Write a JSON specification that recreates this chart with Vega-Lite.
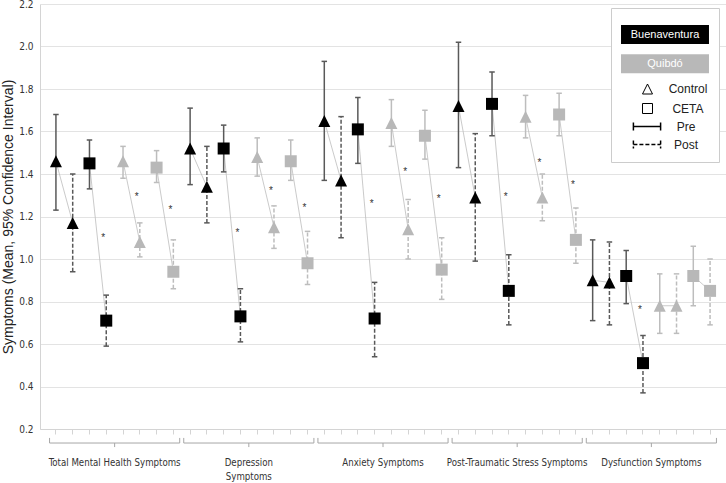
{
  "$schema": "https://vega.github.io/schema/vega-lite/v6.json",
  "width": 686,
  "height": 425,
  "autosize": {"type": "none"},
  "padding": {"left": 40, "top": 4, "right": 0, "bottom": 54},
  "background": "white",
  "config": {"view": {"stroke": null}, "font": "Liberation Sans"},
  "datasets": {
    "pts": [
      {"key": "Total Mental Health Symptoms|Buenaventura|Control|Pre", "m": "Total Mental Health Symptoms", "site": "Buenaventura", "cond": "Control", "time": "Pre", "mean": 1.46, "lo": 1.23, "hi": 1.68, "sig": null},
      {"key": "Total Mental Health Symptoms|Buenaventura|Control|Post", "m": "Total Mental Health Symptoms", "site": "Buenaventura", "cond": "Control", "time": "Post", "mean": 1.17, "lo": 0.94, "hi": 1.40, "sig": null},
      {"key": "Total Mental Health Symptoms|Buenaventura|CETA|Pre", "m": "Total Mental Health Symptoms", "site": "Buenaventura", "cond": "CETA", "time": "Pre", "mean": 1.45, "lo": 1.33, "hi": 1.56, "sig": null},
      {"key": "Total Mental Health Symptoms|Buenaventura|CETA|Post", "m": "Total Mental Health Symptoms", "site": "Buenaventura", "cond": "CETA", "time": "Post", "mean": 0.71, "lo": 0.59, "hi": 0.83, "sig": 1.11},
      {"key": "Total Mental Health Symptoms|Quibdó|Control|Pre", "m": "Total Mental Health Symptoms", "site": "Quibdó", "cond": "Control", "time": "Pre", "mean": 1.46, "lo": 1.38, "hi": 1.53, "sig": null},
      {"key": "Total Mental Health Symptoms|Quibdó|Control|Post", "m": "Total Mental Health Symptoms", "site": "Quibdó", "cond": "Control", "time": "Post", "mean": 1.08, "lo": 1.01, "hi": 1.17, "sig": 1.30},
      {"key": "Total Mental Health Symptoms|Quibdó|CETA|Pre", "m": "Total Mental Health Symptoms", "site": "Quibdó", "cond": "CETA", "time": "Pre", "mean": 1.43, "lo": 1.36, "hi": 1.51, "sig": null},
      {"key": "Total Mental Health Symptoms|Quibdó|CETA|Post", "m": "Total Mental Health Symptoms", "site": "Quibdó", "cond": "CETA", "time": "Post", "mean": 0.94, "lo": 0.86, "hi": 1.09, "sig": 1.24},

      {"key": "Depression Symptoms|Buenaventura|Control|Pre", "m": "Depression Symptoms", "site": "Buenaventura", "cond": "Control", "time": "Pre", "mean": 1.52, "lo": 1.35, "hi": 1.71, "sig": null},
      {"key": "Depression Symptoms|Buenaventura|Control|Post", "m": "Depression Symptoms", "site": "Buenaventura", "cond": "Control", "time": "Post", "mean": 1.34, "lo": 1.17, "hi": 1.53, "sig": null},
      {"key": "Depression Symptoms|Buenaventura|CETA|Pre", "m": "Depression Symptoms", "site": "Buenaventura", "cond": "CETA", "time": "Pre", "mean": 1.52, "lo": 1.41, "hi": 1.63, "sig": null},
      {"key": "Depression Symptoms|Buenaventura|CETA|Post", "m": "Depression Symptoms", "site": "Buenaventura", "cond": "CETA", "time": "Post", "mean": 0.73, "lo": 0.61, "hi": 0.86, "sig": 1.13},
      {"key": "Depression Symptoms|Quibdó|Control|Pre", "m": "Depression Symptoms", "site": "Quibdó", "cond": "Control", "time": "Pre", "mean": 1.48, "lo": 1.39, "hi": 1.57, "sig": null},
      {"key": "Depression Symptoms|Quibdó|Control|Post", "m": "Depression Symptoms", "site": "Quibdó", "cond": "Control", "time": "Post", "mean": 1.15, "lo": 1.05, "hi": 1.25, "sig": 1.33},
      {"key": "Depression Symptoms|Quibdó|CETA|Pre", "m": "Depression Symptoms", "site": "Quibdó", "cond": "CETA", "time": "Pre", "mean": 1.46, "lo": 1.37, "hi": 1.56, "sig": null},
      {"key": "Depression Symptoms|Quibdó|CETA|Post", "m": "Depression Symptoms", "site": "Quibdó", "cond": "CETA", "time": "Post", "mean": 0.98, "lo": 0.88, "hi": 1.13, "sig": 1.25},

      {"key": "Anxiety Symptoms|Buenaventura|Control|Pre", "m": "Anxiety Symptoms", "site": "Buenaventura", "cond": "Control", "time": "Pre", "mean": 1.65, "lo": 1.37, "hi": 1.93, "sig": null},
      {"key": "Anxiety Symptoms|Buenaventura|Control|Post", "m": "Anxiety Symptoms", "site": "Buenaventura", "cond": "Control", "time": "Post", "mean": 1.37, "lo": 1.10, "hi": 1.67, "sig": null},
      {"key": "Anxiety Symptoms|Buenaventura|CETA|Pre", "m": "Anxiety Symptoms", "site": "Buenaventura", "cond": "CETA", "time": "Pre", "mean": 1.61, "lo": 1.45, "hi": 1.76, "sig": null},
      {"key": "Anxiety Symptoms|Buenaventura|CETA|Post", "m": "Anxiety Symptoms", "site": "Buenaventura", "cond": "CETA", "time": "Post", "mean": 0.72, "lo": 0.54, "hi": 0.89, "sig": 1.27},
      {"key": "Anxiety Symptoms|Quibdó|Control|Pre", "m": "Anxiety Symptoms", "site": "Quibdó", "cond": "Control", "time": "Pre", "mean": 1.64, "lo": 1.53, "hi": 1.75, "sig": null},
      {"key": "Anxiety Symptoms|Quibdó|Control|Post", "m": "Anxiety Symptoms", "site": "Quibdó", "cond": "Control", "time": "Post", "mean": 1.14, "lo": 1.00, "hi": 1.28, "sig": 1.42},
      {"key": "Anxiety Symptoms|Quibdó|CETA|Pre", "m": "Anxiety Symptoms", "site": "Quibdó", "cond": "CETA", "time": "Pre", "mean": 1.58, "lo": 1.47, "hi": 1.70, "sig": null},
      {"key": "Anxiety Symptoms|Quibdó|CETA|Post", "m": "Anxiety Symptoms", "site": "Quibdó", "cond": "CETA", "time": "Post", "mean": 0.95, "lo": 0.81, "hi": 1.10, "sig": 1.29},

      {"key": "Post-Traumatic Stress Symptoms|Buenaventura|Control|Pre", "m": "Post-Traumatic Stress Symptoms", "site": "Buenaventura", "cond": "Control", "time": "Pre", "mean": 1.72, "lo": 1.43, "hi": 2.02, "sig": null},
      {"key": "Post-Traumatic Stress Symptoms|Buenaventura|Control|Post", "m": "Post-Traumatic Stress Symptoms", "site": "Buenaventura", "cond": "Control", "time": "Post", "mean": 1.29, "lo": 0.99, "hi": 1.59, "sig": null},
      {"key": "Post-Traumatic Stress Symptoms|Buenaventura|CETA|Pre", "m": "Post-Traumatic Stress Symptoms", "site": "Buenaventura", "cond": "CETA", "time": "Pre", "mean": 1.73, "lo": 1.58, "hi": 1.88, "sig": null},
      {"key": "Post-Traumatic Stress Symptoms|Buenaventura|CETA|Post", "m": "Post-Traumatic Stress Symptoms", "site": "Buenaventura", "cond": "CETA", "time": "Post", "mean": 0.85, "lo": 0.69, "hi": 1.02, "sig": 1.30},
      {"key": "Post-Traumatic Stress Symptoms|Quibdó|Control|Pre", "m": "Post-Traumatic Stress Symptoms", "site": "Quibdó", "cond": "Control", "time": "Pre", "mean": 1.67, "lo": 1.57, "hi": 1.77, "sig": null},
      {"key": "Post-Traumatic Stress Symptoms|Quibdó|Control|Post", "m": "Post-Traumatic Stress Symptoms", "site": "Quibdó", "cond": "Control", "time": "Post", "mean": 1.29, "lo": 1.18, "hi": 1.40, "sig": 1.46},
      {"key": "Post-Traumatic Stress Symptoms|Quibdó|CETA|Pre", "m": "Post-Traumatic Stress Symptoms", "site": "Quibdó", "cond": "CETA", "time": "Pre", "mean": 1.68, "lo": 1.58, "hi": 1.78, "sig": null},
      {"key": "Post-Traumatic Stress Symptoms|Quibdó|CETA|Post", "m": "Post-Traumatic Stress Symptoms", "site": "Quibdó", "cond": "CETA", "time": "Post", "mean": 1.09, "lo": 0.98, "hi": 1.24, "sig": 1.36},

      {"key": "Dysfunction Symptoms|Buenaventura|Control|Pre", "m": "Dysfunction Symptoms", "site": "Buenaventura", "cond": "Control", "time": "Pre", "mean": 0.90, "lo": 0.71, "hi": 1.09, "sig": null},
      {"key": "Dysfunction Symptoms|Buenaventura|Control|Post", "m": "Dysfunction Symptoms", "site": "Buenaventura", "cond": "Control", "time": "Post", "mean": 0.89, "lo": 0.69, "hi": 1.08, "sig": null},
      {"key": "Dysfunction Symptoms|Buenaventura|CETA|Pre", "m": "Dysfunction Symptoms", "site": "Buenaventura", "cond": "CETA", "time": "Pre", "mean": 0.92, "lo": 0.79, "hi": 1.04, "sig": null},
      {"key": "Dysfunction Symptoms|Buenaventura|CETA|Post", "m": "Dysfunction Symptoms", "site": "Buenaventura", "cond": "CETA", "time": "Post", "mean": 0.51, "lo": 0.37, "hi": 0.64, "sig": 0.77},
      {"key": "Dysfunction Symptoms|Quibdó|Control|Pre", "m": "Dysfunction Symptoms", "site": "Quibdó", "cond": "Control", "time": "Pre", "mean": 0.78, "lo": 0.65, "hi": 0.93, "sig": null},
      {"key": "Dysfunction Symptoms|Quibdó|Control|Post", "m": "Dysfunction Symptoms", "site": "Quibdó", "cond": "Control", "time": "Post", "mean": 0.78, "lo": 0.65, "hi": 0.93, "sig": null},
      {"key": "Dysfunction Symptoms|Quibdó|CETA|Pre", "m": "Dysfunction Symptoms", "site": "Quibdó", "cond": "CETA", "time": "Pre", "mean": 0.92, "lo": 0.78, "hi": 1.06, "sig": null},
      {"key": "Dysfunction Symptoms|Quibdó|CETA|Post", "m": "Dysfunction Symptoms", "site": "Quibdó", "cond": "CETA", "time": "Post", "mean": 0.85, "lo": 0.69, "hi": 1.00, "sig": null}
    ],
    "groups": [
      {"m": "Total Mental Health Symptoms", "first": "Total Mental Health Symptoms|Buenaventura|Control|Pre", "mid": "Total Mental Health Symptoms|Buenaventura|CETA|Post", "last": "Total Mental Health Symptoms|Quibdó|CETA|Post"},
      {"m": "Depression Symptoms", "first": "Depression Symptoms|Buenaventura|Control|Pre", "mid": "Depression Symptoms|Buenaventura|CETA|Post", "last": "Depression Symptoms|Quibdó|CETA|Post"},
      {"m": "Anxiety Symptoms", "first": "Anxiety Symptoms|Buenaventura|Control|Pre", "mid": "Anxiety Symptoms|Buenaventura|CETA|Post", "last": "Anxiety Symptoms|Quibdó|CETA|Post"},
      {"m": "Post-Traumatic Stress Symptoms", "first": "Post-Traumatic Stress Symptoms|Buenaventura|Control|Pre", "mid": "Post-Traumatic Stress Symptoms|Buenaventura|CETA|Post", "last": "Post-Traumatic Stress Symptoms|Quibdó|CETA|Post"},
      {"m": "Dysfunction Symptoms", "first": "Dysfunction Symptoms|Buenaventura|Control|Pre", "mid": "Dysfunction Symptoms|Buenaventura|CETA|Post", "last": "Dysfunction Symptoms|Quibdó|CETA|Post"}
    ]
  },
  "layer": [
    {
      "data": {"name": "pts"},
      "mark": {"type": "line", "color": "#bdbdbd", "strokeWidth": 0.8},
      "encoding": {
        "x": {
          "field": "key", "type": "nominal", "title": null,
          "scale": {
            "type": "band", "paddingInner": 0, "paddingOuter": 0.45,
            "domain": [
              "Total Mental Health Symptoms|Buenaventura|Control|Pre", "Total Mental Health Symptoms|Buenaventura|Control|Post", "Total Mental Health Symptoms|Buenaventura|CETA|Pre", "Total Mental Health Symptoms|Buenaventura|CETA|Post", "Total Mental Health Symptoms|Quibdó|Control|Pre", "Total Mental Health Symptoms|Quibdó|Control|Post", "Total Mental Health Symptoms|Quibdó|CETA|Pre", "Total Mental Health Symptoms|Quibdó|CETA|Post",
              "Depression Symptoms|Buenaventura|Control|Pre", "Depression Symptoms|Buenaventura|Control|Post", "Depression Symptoms|Buenaventura|CETA|Pre", "Depression Symptoms|Buenaventura|CETA|Post", "Depression Symptoms|Quibdó|Control|Pre", "Depression Symptoms|Quibdó|Control|Post", "Depression Symptoms|Quibdó|CETA|Pre", "Depression Symptoms|Quibdó|CETA|Post",
              "Anxiety Symptoms|Buenaventura|Control|Pre", "Anxiety Symptoms|Buenaventura|Control|Post", "Anxiety Symptoms|Buenaventura|CETA|Pre", "Anxiety Symptoms|Buenaventura|CETA|Post", "Anxiety Symptoms|Quibdó|Control|Pre", "Anxiety Symptoms|Quibdó|Control|Post", "Anxiety Symptoms|Quibdó|CETA|Pre", "Anxiety Symptoms|Quibdó|CETA|Post",
              "Post-Traumatic Stress Symptoms|Buenaventura|Control|Pre", "Post-Traumatic Stress Symptoms|Buenaventura|Control|Post", "Post-Traumatic Stress Symptoms|Buenaventura|CETA|Pre", "Post-Traumatic Stress Symptoms|Buenaventura|CETA|Post", "Post-Traumatic Stress Symptoms|Quibdó|Control|Pre", "Post-Traumatic Stress Symptoms|Quibdó|Control|Post", "Post-Traumatic Stress Symptoms|Quibdó|CETA|Pre", "Post-Traumatic Stress Symptoms|Quibdó|CETA|Post",
              "Dysfunction Symptoms|Buenaventura|Control|Pre", "Dysfunction Symptoms|Buenaventura|Control|Post", "Dysfunction Symptoms|Buenaventura|CETA|Pre", "Dysfunction Symptoms|Buenaventura|CETA|Post", "Dysfunction Symptoms|Quibdó|Control|Pre", "Dysfunction Symptoms|Quibdó|Control|Post", "Dysfunction Symptoms|Quibdó|CETA|Pre", "Dysfunction Symptoms|Quibdó|CETA|Post"
            ]
          },
          "axis": {
            "title": null, "grid": false, "domainColor": "#d4d4d4", "tickColor": "#d4d4d4", "tickSize": 5,
            "labelExpr": "split(datum.value,'|')[1]=='Buenaventura' && split(datum.value,'|')[2]=='CETA' && split(datum.value,'|')[3]=='Post' ? (split(datum.value,'|')[0]=='Depression Symptoms' ? ['Depression','Symptoms'] : split(datum.value,'|')[0]) : ''",
            "labelOffset": 8.4, "labelPadding": 23, "labelAngle": 0,
            "labelFont": "DejaVu Sans Condensed", "labelFontSize": 9.6, "labelColor": "#333333",
            "labelLineHeight": 14, "labelOverlap": false, "labelBound": false, "labelFlush": false
          }
        },
        "y": {
          "field": "mean", "type": "quantitative", "title": "Symptoms (Mean, 95% Confidence Interval)",
          "scale": {"domain": [0.2, 2.2], "nice": false, "zero": false},
          "axis": {
            "values": [0.2, 0.4, 0.6, 0.8, 1.0, 1.2, 1.4, 1.6, 1.8, 2.0, 2.2], "format": ".1f",
            "grid": true, "gridColor": "#e3e3e3", "domainColor": "#d4d4d4", "ticks": false, "tickSize": 0,
            "labelPadding": 7, "labelFont": "DejaVu Sans Condensed", "labelFontSize": 10, "labelColor": "#333333",
            "titleFont": "Liberation Sans", "titleFontSize": 14, "titleFontWeight": "normal", "titleColor": "#222222",
            "titleX": -28, "titleY": 212.5, "titleAngle": 270, "titleAlign": "center", "titleBaseline": "alphabetic"
          }
        },
        "detail": [{"field": "m", "type": "nominal"}, {"field": "site", "type": "nominal"}, {"field": "cond", "type": "nominal"}]
      }
    },
    {
      "data": {"name": "pts"},
      "mark": {"type": "rule", "strokeWidth": 1.5},
      "encoding": {
        "x": {"field": "key", "type": "nominal", "title": null},
        "y": {"field": "lo", "type": "quantitative", "title": "Symptoms (Mean, 95% Confidence Interval)"},
        "y2": {"field": "hi"},
        "stroke": {"condition": {"test": "datum.site === 'Buenaventura'", "value": "#595959"}, "value": "#bdbdbd"},
        "strokeDash": {
          "field": "time", "type": "nominal",
          "scale": {"domain": ["Pre", "Post"], "range": [[1, 0], [4, 2]]},
          "legend": {
            "orient": "none", "legendX": 571, "legendY": 4, "zindex": 1,
            "title": "MMMMMMMMMM", "titleColor": "#ffffff", "titleFont": "Liberation Sans", "titleFontSize": 10.5, "titleFontWeight": "normal", "titlePadding": 92,
            "padding": 10, "fillColor": "#ffffff", "strokeColor": "#cccccc", "cornerRadius": 0,
            "symbolType": "M-3.4,-1V1M-3.4,0H3.4M3.4,-1V1", "symbolSize": 64, "symbolStrokeColor": "#000000", "symbolStrokeWidth": 1.5,
            "rowPadding": 4, "labelFont": "Liberation Sans", "labelFontSize": 12, "labelColor": "#222222",
            "encode": {
              "symbols": {"update": {"x": {"value": 26}, "stroke": {"value": "#000000"}, "strokeDash": {"signal": "datum.value === 'Post' ? [2, 1.5] : [1, 0]"}}},
              "labels": {"update": {"x": {"value": 65}, "align": {"value": "center"}}}
            }
          }
        }
      }
    },
    {
      "data": {"name": "pts"},
      "mark": {"type": "point", "shape": "M-1,0H1", "size": 30, "filled": false, "strokeWidth": 1.5, "opacity": 1},
      "encoding": {
        "x": {"field": "key", "type": "nominal", "title": null},
        "y": {"field": "lo", "type": "quantitative", "title": "Symptoms (Mean, 95% Confidence Interval)"},
        "stroke": {"condition": {"test": "datum.site === 'Buenaventura'", "value": "#595959"}, "value": "#bdbdbd"}
      }
    },
    {
      "data": {"name": "pts"},
      "mark": {"type": "point", "shape": "M-1,0H1", "size": 30, "filled": false, "strokeWidth": 1.5, "opacity": 1},
      "encoding": {
        "x": {"field": "key", "type": "nominal", "title": null},
        "y": {"field": "hi", "type": "quantitative", "title": "Symptoms (Mean, 95% Confidence Interval)"},
        "stroke": {"condition": {"test": "datum.site === 'Buenaventura'", "value": "#595959"}, "value": "#bdbdbd"}
      }
    },
    {
      "data": {"name": "pts"},
      "mark": {"type": "point", "filled": true, "size": 144, "opacity": 1, "strokeWidth": 0},
      "encoding": {
        "x": {"field": "key", "type": "nominal", "title": null},
        "y": {"field": "mean", "type": "quantitative", "title": "Symptoms (Mean, 95% Confidence Interval)"},
        "fill": {
          "field": "site", "type": "nominal",
          "scale": {"domain": ["Buenaventura", "Quibdó"], "range": ["#000000", "#b8b8b8"]},
          "legend": {
            "orient": "none", "legendX": 615.5, "legendY": 21, "zindex": 2, "title": null, "padding": 0,
            "symbolType": "M-4.63,-1H4.63V1H-4.63Z", "symbolSize": 361, "symbolStrokeWidth": 0, "symbolOpacity": 1,
            "rowPadding": 10.3, "labelFont": "Liberation Sans", "labelFontSize": 11,
            "labelAlign": "center", "labelOffset": -9.5, "labelColor": "#ffffff"
          }
        },
        "shape": {
          "field": "cond", "type": "nominal",
          "scale": {"domain": ["Control", "CETA"], "range": ["M0,-1L-1,1L1,1Z", "square"]},
          "legend": {
            "orient": "none", "legendX": 601.5, "legendY": 79, "zindex": 2, "title": null, "padding": 0,
            "symbolSize": 100, "symbolFillColor": "transparent", "symbolStrokeColor": "#000000", "symbolStrokeWidth": 1, "symbolOpacity": 1,
            "rowPadding": 5.5, "labelFont": "Liberation Sans", "labelFontSize": 12, "labelColor": "#222222",
            "labelAlign": "center", "labelOffset": 34.5
          }
        }
      }
    },
    {
      "data": {"name": "pts"},
      "transform": [{"filter": "datum.sig != null"}],
      "mark": {"type": "text", "text": "*", "fontSize": 10, "dx": -3, "dy": 2, "baseline": "middle", "color": "#333333"},
      "encoding": {
        "x": {"field": "key", "type": "nominal", "title": null},
        "y": {"field": "sig", "type": "quantitative", "title": "Symptoms (Mean, 95% Confidence Interval)"}
      }
    },
    {
      "data": {"name": "groups"},
      "mark": {"type": "rule", "color": "#a6a6a6", "strokeWidth": 1},
      "encoding": {
        "x": {"field": "first", "type": "nominal", "bandPosition": 0.12, "title": null},
        "x2": {"field": "last", "bandPosition": 0.88},
        "y": {"datum": 0.134, "type": "quantitative", "title": "Symptoms (Mean, 95% Confidence Interval)"}
      }
    },
    {
      "data": {"name": "groups"},
      "mark": {"type": "rule", "color": "#a6a6a6", "strokeWidth": 1},
      "encoding": {
        "x": {"field": "first", "type": "nominal", "bandPosition": 0.12, "title": null},
        "y": {"datum": 0.134, "type": "quantitative", "title": "Symptoms (Mean, 95% Confidence Interval)"},
        "y2": {"datum": 0.158}
      }
    },
    {
      "data": {"name": "groups"},
      "mark": {"type": "rule", "color": "#a6a6a6", "strokeWidth": 1},
      "encoding": {
        "x": {"field": "last", "type": "nominal", "bandPosition": 0.88, "title": null},
        "y": {"datum": 0.134, "type": "quantitative", "title": "Symptoms (Mean, 95% Confidence Interval)"},
        "y2": {"datum": 0.158}
      }
    },
    {
      "data": {"name": "groups"},
      "mark": {"type": "rule", "color": "#a6a6a6", "strokeWidth": 1},
      "encoding": {
        "x": {"field": "mid", "type": "nominal", "bandPosition": 1, "title": null},
        "y": {"datum": 0.134, "type": "quantitative", "title": "Symptoms (Mean, 95% Confidence Interval)"},
        "y2": {"datum": 0.115}
      }
    }
  ]
}
